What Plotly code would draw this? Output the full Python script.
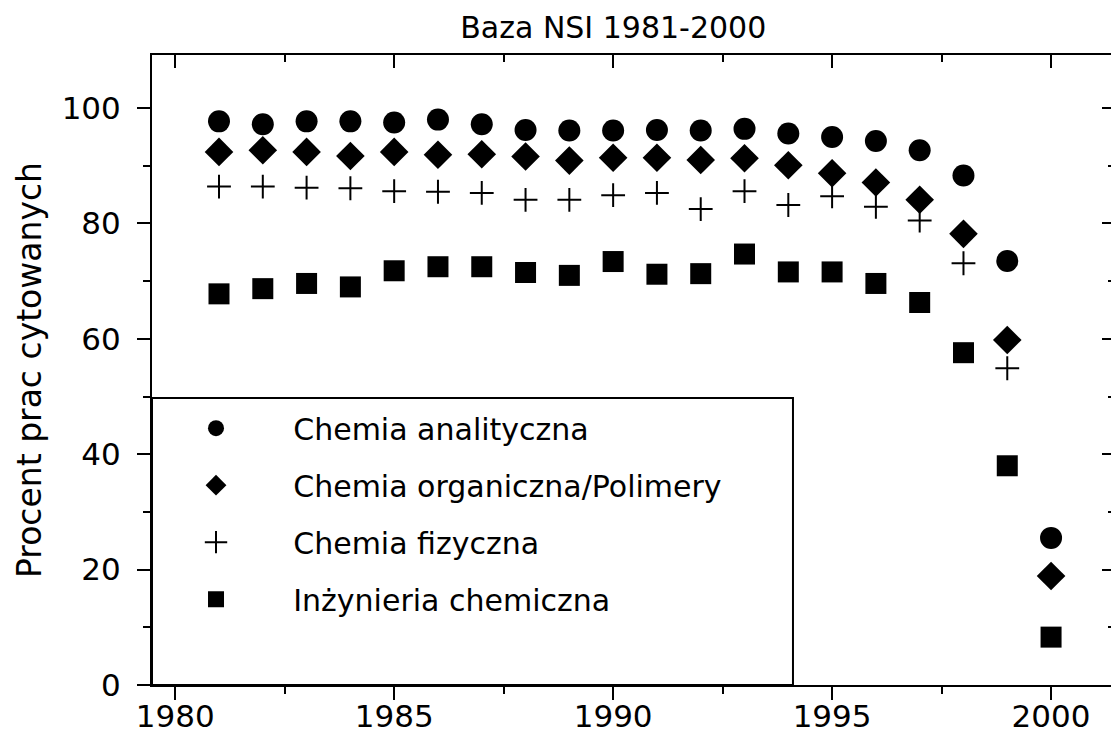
import plotly.graph_objects as go

# lata i procent prac cytowanych
years = list(range(1981, 2001))

analit = [97.7, 97.2, 97.7, 97.7, 97.5, 98.0, 97.2, 96.2, 96.1, 96.1,
          96.2, 96.1, 96.4, 95.6, 95.0, 94.3, 92.7, 88.3, 73.5, 25.5]
organ = [92.4, 92.7, 92.4, 91.7, 92.4, 91.9, 92.0, 91.6, 90.9, 91.4,
         91.4, 91.0, 91.3, 90.1, 88.7, 87.1, 84.1, 78.2, 59.8, 18.9]
fizycz = [86.4, 86.4, 86.2, 86.1, 85.6, 85.5, 85.3, 84.1, 84.1, 84.9,
          85.3, 82.5, 85.6, 83.2, 84.7, 82.9, 80.5, 73.1, 54.9, None]
inzyn = [67.8, 68.7, 69.6, 69.0, 71.8, 72.5, 72.5, 71.5, 71.0, 73.4,
         71.2, 71.3, 74.7, 71.6, 71.6, 69.6, 66.3, 57.6, 38.0, 8.3]

names = ['Chemia analityczna', 'Chemia organiczna/Polimery',
         'Chemia fizyczna', 'Inżynieria chemiczna']

FONT = 'DejaVu Sans, Liberation Sans, sans-serif'
pad = '\u00a0' * 6

fig = go.Figure()
series = [
    (analit, 'circle', 22, 0),
    (organ, 'diamond', 22, 0),
    (fizycz, 'cross-thin', 17, 2),
    (inzyn, 'square', 21, 0),
]
for i, (vals, sym, sz, lw) in enumerate(series):
    fig.add_trace(go.Scatter(
        x=years, y=vals, mode='markers', name=pad + names[i],
        legendgroup='g%d' % i,
        marker=dict(symbol=sym, size=sz, color='black',
                    line=dict(color='black', width=lw)),
    ))

# niewidoczna kopia do osi górnej/prawej (ticki do wewnątrz)
fig.add_trace(go.Scatter(x=years, y=analit, xaxis='x2', yaxis='y2',
                         mode='markers', marker=dict(opacity=0),
                         showlegend=False, hoverinfo='skip'))

xr = [1979.47, 2001.46]
yr = [0, 109.2]

# strona ma 8px marginesu body, wiec figura jest o 8px mniejsza
W, H = 1111, 735

fig.update_layout(
    width=W, height=H,
    paper_bgcolor='white', plot_bgcolor='white',
    margin=dict(l=144, r=4, t=47, b=58),
    font=dict(family=FONT, size=31, color='black'),
    title=dict(text='Baza NSI 1981-2000', x=0.479, xref='paper', xanchor='center',
               y=1 - 19 / H, yanchor='middle', font=dict(size=30)),
    showlegend=True,
    legend=dict(x=0.0457, y=0.449, xanchor='left', yanchor='top',
                bgcolor='rgba(0,0,0,0)', borderwidth=0,
                traceorder='grouped', tracegroupgap=15,
                font=dict(size=30)),
    xaxis=dict(range=xr, showgrid=False, zeroline=False, automargin=False,
               showline=True, linecolor='black', linewidth=2, mirror=True,
               tickmode='array', tickvals=[1980, 1985, 1990, 1995, 2000],
               ticks='outside', ticklen=13, tickwidth=2, tickcolor='black',
               ticklabelstandoff=-10,
               minor=dict(tickmode='array', tickvals=[1982.5, 1987.5, 1992.5, 1997.5],
                          ticks='outside', ticklen=7, tickwidth=2, tickcolor='black')),
    yaxis=dict(range=yr, showgrid=False, zeroline=False, automargin=False,
               showline=True, linecolor='black', linewidth=2, mirror=True,
               tickmode='array', tickvals=[0, 20, 40, 60, 80, 100],
               ticks='outside', ticklen=13, tickwidth=2, tickcolor='black',
               ticklabelstandoff=10,
               minor=dict(tickmode='array', tickvals=[10, 30, 50, 70, 90],
                          ticks='outside', ticklen=7, tickwidth=2, tickcolor='black'),
               title=dict(text='Procent prac cytowanych', font=dict(size=33), standoff=10)),
    xaxis2=dict(range=xr, overlaying='x', side='top', anchor='y2', automargin=False,
                showgrid=False, zeroline=False, showticklabels=False,
                tickmode='array', tickvals=[1980, 1985, 1990, 1995, 2000],
                ticks='inside', ticklen=13, tickwidth=2, tickcolor='black',
                minor=dict(tickmode='array', tickvals=[1982.5, 1987.5, 1992.5, 1997.5],
                           ticks='inside', ticklen=7, tickwidth=2, tickcolor='black')),
    yaxis2=dict(range=yr, overlaying='y', side='right', anchor='x2', automargin=False,
                showgrid=False, zeroline=False, showticklabels=False,
                tickmode='array', tickvals=[0, 20, 40, 60, 80, 100],
                ticks='inside', ticklen=13, tickwidth=2, tickcolor='black',
                minor=dict(tickmode='array', tickvals=[10, 30, 50, 70, 90],
                           ticks='inside', ticklen=7, tickwidth=2, tickcolor='black')),
    shapes=[dict(type='rect', xref='paper', yref='paper',
                 x0=0, x1=0.6656, y0=0, y1=0.4556,
                 line=dict(color='black', width=2), layer='above')],
)

fig.write_html('out.html')
